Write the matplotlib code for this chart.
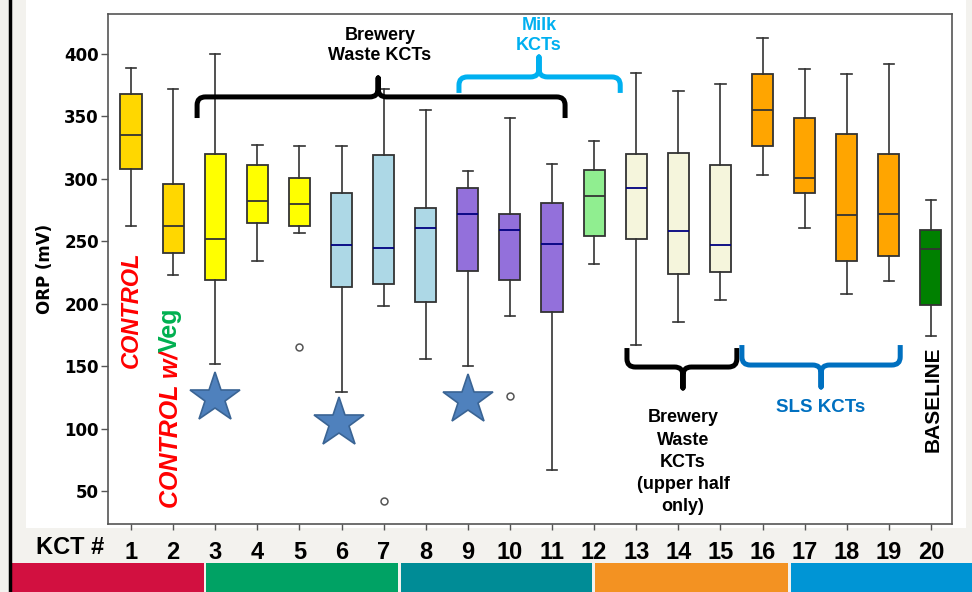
import numpy as np
import matplotlib.pyplot as plt
from matplotlib.path import Path
from matplotlib.patches import PathPatch, Rectangle
from matplotlib.lines import Line2D

# ORP per KCT
kct = list(range(1, 21))
whis_hi = [389, 372, 400, 327, 326, 326, 372, 355, 306, 349, 312, 330, 385, 370, 376, 413, 388, 384, 392, 283]
q3 = [368, 296, 320, 311, 301, 289, 319, 277, 293, 272, 281, 307, 320, 321, 311, 384, 349, 336, 320, 259]
med = [335, 262, 252, 282, 280, 247, 245, 261, 272, 259, 248, 286, 293, 258, 247, 355, 301, 271, 272, 244]
q1 = [308, 241, 219, 265, 262, 213, 216, 201, 226, 219, 193, 254, 252, 224, 225, 326, 289, 234, 238, 199]
whis_lo = [262, 223, 152, 234, 257, 129, 198, 156, 150, 190, 67, 232, 167, 185, 203, 303, 261, 208, 218, 174]
outliers = {5: [165], 7: [42], 10: [126]}
box_colors = ['#FFD700', '#FFD700', '#FFFF00', '#FFFF00', '#FFFF00',
              '#ADD8E6', '#ADD8E6', '#ADD8E6', '#9370DB', '#9370DB', '#9370DB',
              '#90EE90', '#F5F5DC', '#F5F5DC', '#F5F5DC',
              '#FFA500', '#FFA500', '#FFA500', '#FFA500', '#008000']
med_colors = ['#333333'] * 5 + ['#000080'] * 6 + ['#333333'] + ['#000080'] * 3 + ['#333333'] * 5
# stars marking selected KCTs
star_x = [3, 5.95, 9]
star_y = [124.5, 104.5, 123]
strip_colors = ['#D21040', '#00A264', '#008C96', '#F39222', '#0095D5']

W, H = 972, 592
fig = plt.figure(figsize=(W / 100, H / 100), dpi=100, facecolor='#F3F2EE')
# slide decorations
fig.add_artist(Rectangle((26 / W, 1 - 528 / H), 940 / W, 528 / H, transform=fig.transFigure,
                         facecolor='white', edgecolor='none', zorder=0))
fig.add_artist(Line2D([10 / W, 10 / W], [0, 1], transform=fig.transFigure, color='black', lw=2.5))
strip_px = [(12, 204), (206, 398), (401, 592), (595, 788), (791, 972)]
for (a, b), c in zip(strip_px, strip_colors):
    fig.add_artist(Rectangle((a / W, 0), (b - a) / W, 29 / H, transform=fig.transFigure,
                             facecolor=c, edgecolor='none'))

ax = fig.add_axes([108 / W, 1 - 524 / H, 844 / W, 510 / H])
ax.set_facecolor('white')

stats = []
for i in range(len(kct)):
    stats.append(dict(med=med[i], q1=q1[i], q3=q3[i], whislo=whis_lo[i], whishi=whis_hi[i],
                      fliers=outliers.get(kct[i], [])))
bp = ax.bxp(stats, positions=kct, widths=0.5, patch_artist=True,
            boxprops=dict(edgecolor='#333333', linewidth=1.3),
            whiskerprops=dict(color='#333333', linewidth=1.2),
            capprops=dict(color='#333333', linewidth=1.2),
            flierprops=dict(marker='o', markersize=5, markerfacecolor='none',
                            markeredgecolor='#555555', markeredgewidth=1.1))
for patch, c in zip(bp['boxes'], box_colors):
    patch.set_facecolor(c)
for m, c in zip(bp['medians'], med_colors):
    m.set_color(c)
    m.set_linewidth(1.3)

ax.plot(star_x, star_y, ls='none', marker='*', ms=38, mfc='#4F81BD', mec='#3A6494', mew=1.2)

ax.set_xlim(0.454, 20.5)
ax.set_ylim(23.6, 432)
ax.set_yticks([50, 100, 150, 200, 250, 300, 350, 400])
for s in ax.spines.values():
    s.set_color('#555555')
    s.set_linewidth(1.2)
ax.tick_params(axis='y', length=5, width=1, pad=1.5, color='#555555')
ax.tick_params(axis='x', length=4, width=1, pad=8, color='#555555')
for t in ax.get_yticklabels():
    t.set_fontfamily('DejaVu Sans')
    t.set_fontweight('bold')
    t.set_fontsize(12)
ax.set_xticks(kct)
ax.set_xticklabels([str(k) for k in kct], fontfamily='Liberation Sans', fontweight='bold', fontsize=17)
ax.set_ylabel('ORP (mV)', fontfamily='DejaVu Sans', fontweight='bold', fontsize=12)
ax.yaxis.set_label_coords(-0.064, 0.5)
fig.text(70 / W, 1 - 548 / H, 'KCT #', ha='center', va='center', fontfamily='Liberation Sans',
         fontweight='bold', fontsize=17)


def brace(x0, x1, xc, y_bar, y_end, y_tip, color, rx=0.2, ry=6.5):
    d = 1 if y_bar > y_end else -1
    verts = [(x0, y_end), (x0, y_bar - d * ry), (x0, y_bar), (x0 + rx, y_bar),
             (xc - rx, y_bar), (xc, y_bar), (xc, y_bar + d * ry), (xc, y_tip),
             (xc, y_bar + d * ry), (xc, y_bar), (xc + rx, y_bar),
             (x1 - rx, y_bar), (x1, y_bar), (x1, y_bar - d * ry), (x1, y_end)]
    codes = [Path.MOVETO, Path.LINETO, Path.CURVE3, Path.CURVE3,
             Path.LINETO, Path.CURVE3, Path.CURVE3, Path.LINETO,
             Path.LINETO, Path.CURVE3, Path.CURVE3,
             Path.LINETO, Path.CURVE3, Path.CURVE3, Path.LINETO]
    ax.add_patch(PathPatch(Path(verts, codes), facecolor='none', edgecolor=color, lw=3.6,
                           capstyle='butt', joinstyle='round', clip_on=False, zorder=5))


brace(2.57, 11.31, 6.87, 365.6, 348.7, 380.8, 'black')
brace(8.79, 12.62, 10.69, 381.6, 368.8, 397.6, '#00B0F0')
brace(12.78, 15.39, 14.11, 149.3, 164.5, 132.5, 'black')
brace(15.51, 19.27, 17.39, 150.9, 166.9, 133.3, '#0070C0')

tk = dict(fontfamily='Liberation Sans', fontweight='bold', ha='center', va='center', zorder=6)
ax.text(6.91, 407, 'Brewery\nWaste KCTs', fontsize=13, color='black', linespacing=1.25, **tk)
ax.text(10.69, 415, 'Milk\nKCTs', fontsize=13, color='#00B0F0', linespacing=1.25, **tk)
ax.text(14.11, 73, 'Brewery\nWaste\nKCTs\n(upper half\nonly)', fontsize=13, color='black',
        linespacing=1.4, **tk)
ax.text(17.39, 116.5, 'SLS KCTs', fontsize=13.5, color='#0070C0', **tk)
ax.text(20.05, 123.7, 'BASELINE', fontsize=15, color='black', rotation=90, **tk)
ax.text(1.0, 195, 'CONTROL', fontsize=17, color='#FF0000', rotation=90, style='italic', **tk)
t1 = ax.text(1.93, 36.4, 'CONTROL w/', fontsize=18, color='#FF0000', rotation=90,
             style='italic', fontfamily='Liberation Sans', fontweight='bold', ha='center', va='bottom')
ax.annotate('Veg', xy=(0.5, 1), xycoords=t1, fontsize=18, color='#00B050', rotation=90,
            fontfamily='Liberation Sans', fontweight='bold', ha='center', va='bottom')

fig.savefig('out.png', dpi=100, facecolor=fig.get_facecolor())
